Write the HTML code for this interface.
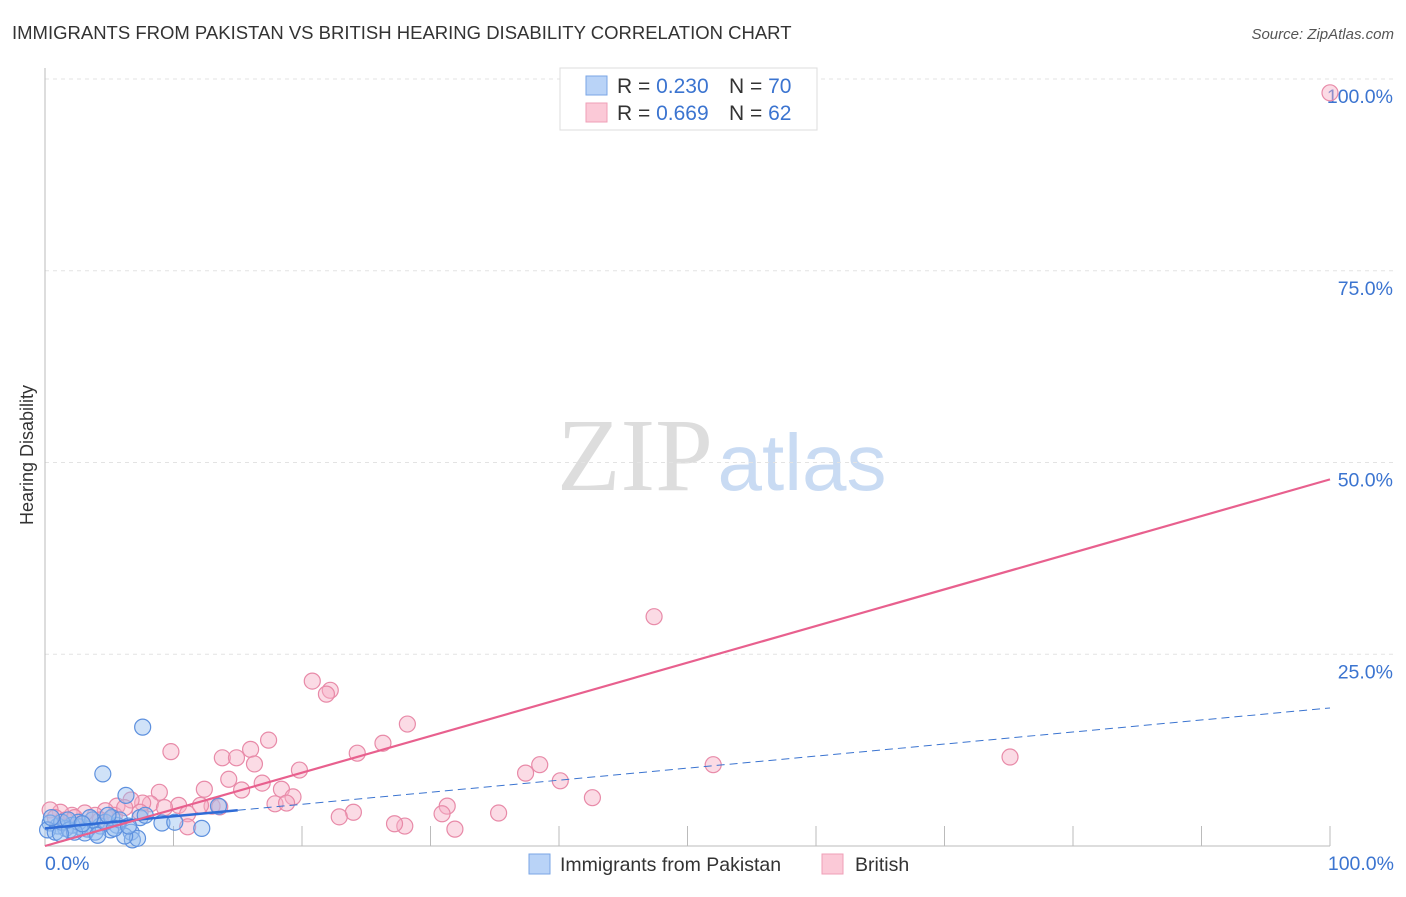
<!DOCTYPE html>
<html><head><meta charset="utf-8"><style>
body{margin:0;background:#fff;font-family:"Liberation Sans",sans-serif}
</style></head><body>
<svg width="1406" height="892" xmlns="http://www.w3.org/2000/svg">
<text x="12" y="39" font-size="18.5" fill="#333">IMMIGRANTS FROM PAKISTAN VS BRITISH HEARING DISABILITY CORRELATION CHART</text>
<text x="1394" y="39" font-size="15" fill="#555" text-anchor="end" font-style="italic">Source: ZipAtlas.com</text>
<g><text x="635" y="490" font-size="104" fill="#ddd" text-anchor="middle" font-family="Liberation Serif,serif">ZIP</text><text x="802" y="490" font-size="80" fill="#c9dbf3" text-anchor="middle">atlas</text></g>
<g id="grid"></g>
<g id="axes"></g>
<g id="marks"></g>
<text transform="translate(33,455) rotate(-90)" font-size="18" fill="#333" text-anchor="middle">Hearing Disability</text>
<text x="45" y="870" font-size="19.5" fill="#3b74d0">0.0%</text>
<text x="1394" y="870" font-size="19.5" fill="#3b74d0" text-anchor="end">100.0%</text>
<g>
<rect x="560" y="68" width="257" height="62" fill="#fff" stroke="#ddd"/>
<rect x="586" y="76" width="21" height="19" fill="#b9d3f7" stroke="#7aa6e6"/>
<rect x="586" y="103" width="21" height="19" fill="#fbc9d7" stroke="#ef9fb7"/>
<text x="617" y="93" font-size="21" fill="#333">R = <tspan fill="#3b74d0">0.230</tspan></text>
<text x="729" y="93" font-size="21" fill="#333">N = <tspan fill="#3b74d0">70</tspan></text>
<text x="617" y="120" font-size="21" fill="#333">R = <tspan fill="#3b74d0">0.669</tspan></text>
<text x="729" y="120" font-size="21" fill="#333">N = <tspan fill="#3b74d0">62</tspan></text>
</g>
<g>
<rect x="529" y="854" width="21" height="20" fill="#b9d3f7" stroke="#7aa6e6"/>
<text x="560" y="871" font-size="19.5" fill="#333">Immigrants from Pakistan</text>
<rect x="822" y="854" width="21" height="20" fill="#fbc9d7" stroke="#ef9fb7"/>
<text x="855" y="871" font-size="19.5" fill="#333">British</text>
</g>
</svg>
<script>
const yTicks=[25,50,75,100];
const yTickLabels=["25.0%","50.0%","75.0%","100.0%"];
const xTicks=[0,10,20,30,40,50,60,70,80,90,100];
const pinkX=[100,47.4,20.8,22.2,28.2,17.4,9.8,16.0,13.8,14.9,16.3,24.3,26.3,38.5,37.4,52.0,75.1,40.1,19.8,14.3,16.9,12.4,8.9,18.4,19.3,15.3,42.6,31.3,35.3,30.9,24.0,22.9,31.9,28.0,27.2,17.9,18.8,13.0,10.4,11.1,11.1,8.2,7.6,6.7,5.6,4.7,3.9,3.1,2.1,1.2,0.4,0.8,1.6,2.3,5.4,6.2,9.3,12.1,4.3,7.4,13.6,21.9];
const pinkY=[98.2,29.9,21.5,20.3,15.9,13.8,12.3,12.6,11.5,11.5,10.7,12.1,13.4,10.6,9.5,10.6,11.6,8.5,9.9,8.7,8.2,7.4,7.0,7.4,6.4,7.3,6.3,5.2,4.3,4.2,4.4,3.8,2.2,2.6,2.9,5.5,5.6,5.2,5.3,4.2,2.5,5.5,5.6,6.0,5.2,4.6,4.0,4.3,4.0,4.4,4.7,3.7,3.4,3.7,4.0,5.0,5.0,5.3,3.4,4.4,5.1,19.8];
const blueX=[7.6,4.5,6.3,13.5,12.2,9.1,10.1,6.7,6.8,7.2,6.2,5.6,5.1,4.3,3.9,3.3,2.7,2.1,1.6,1.0,0.4,0.2,0.8,1.3,1.9,2.6,3.1,3.7,4.1,4.7,5.2,5.8,7.4,7.8,4.9,3.5,2.3,1.8,0.5,1.2,5.4,2.9,6.5];
const blueY=[15.5,9.4,6.6,5.2,2.3,3.0,3.1,1.8,0.8,1.0,1.3,2.7,2.1,2.6,1.8,2.2,2.5,2.7,2.3,2.6,3.0,2.1,1.8,3.1,2.1,3.1,1.7,3.4,1.4,3.1,3.7,3.4,3.7,4.0,4.0,3.7,1.8,3.4,3.7,1.6,2.3,2.9,2.6];
const pinkTrend=[0,0,100,47.8];
const blueTrend=[0,2.3,100,18.0];
const blueSolidEnd=15;
const NS="http://www.w3.org/2000/svg";
const X=v=>45+v*12.85, Y=v=>846-v*7.67;
function mk(tag,attrs,parent){const e=document.createElementNS(NS,tag);for(const k in attrs)e.setAttribute(k,attrs[k]);document.getElementById(parent).appendChild(e);return e;}
yTicks.forEach((t,i)=>{
  const g=mk('line',{x1:45,x2:1395,y1:Y(t),y2:Y(t),stroke:'#e3e3e3','stroke-dasharray':'4,4'},'grid');
  
  
  const l=mk('text',{x:1393,y:Y(t)+24,'font-size':19.5,fill:'#3b74d0','text-anchor':'end'},'grid');
  l.textContent=yTickLabels[i];
  
  
});
const ax=mk('line',{x1:45,x2:1330,y1:846,y2:846,stroke:'#bbb'},'axes');


const ay=mk('line',{x1:45,x2:45,y1:68,y2:846,stroke:'#bbb'},'axes');


xTicks.slice(1).forEach(t=>{
  const l=mk('line',{x1:X(t),x2:X(t),y1:826,y2:846,stroke:'#bbb'},'axes');
  
  
});
pinkX.forEach((x,i)=>{
  const c=mk('circle',{cx:X(x),cy:Y(pinkY[i]),r:8,fill:'rgba(247,175,197,0.45)',stroke:'#e88aa8','stroke-width':1.2},'marks');
  
  
});
blueX.forEach((x,i)=>{
  const c=mk('circle',{cx:X(x),cy:Y(blueY[i]),r:8,fill:'rgba(150,190,240,0.45)',stroke:'#5d90de','stroke-width':1.2},'marks');
  
  
});
const bslope=(blueTrend[3]-blueTrend[1])/(blueTrend[2]-blueTrend[0]);
const bd=mk('line',{x1:X(blueSolidEnd),y1:Y(blueTrend[1]+bslope*blueSolidEnd),x2:X(blueTrend[2]),y2:Y(blueTrend[3]),stroke:'#3b74d0','stroke-width':1,'stroke-dasharray':'8,5'},'marks');


const bs=mk('line',{x1:X(blueTrend[0]),y1:Y(blueTrend[1]),x2:X(blueSolidEnd),y2:Y(blueTrend[1]+bslope*blueSolidEnd),stroke:'#2f6bd6','stroke-width':2.5},'marks');


const pt=mk('line',{x1:X(pinkTrend[0]),y1:Y(pinkTrend[1]),x2:X(pinkTrend[2]),y2:Y(pinkTrend[3]),stroke:'#e8608e','stroke-width':2.2},'marks');


</script>
</body></html>
